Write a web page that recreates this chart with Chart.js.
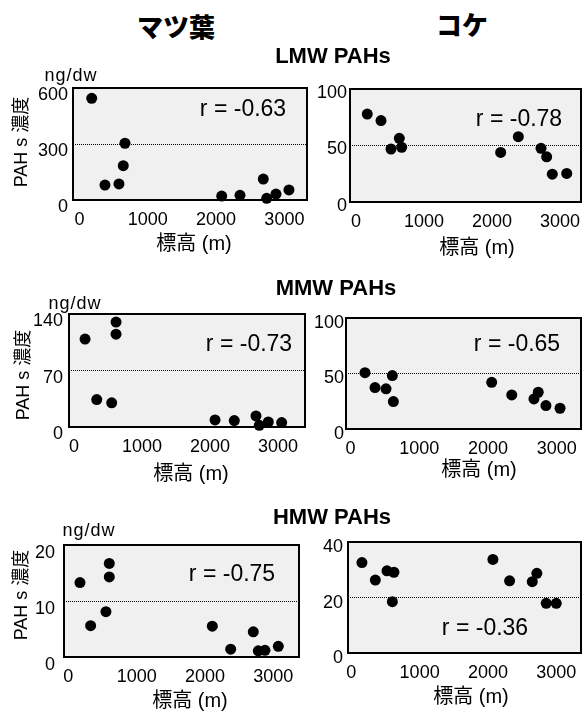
<!DOCTYPE html>
<html lang="ja">
<head>
<meta charset="utf-8">
<title>PAHs 濃度と標高</title>
<script src="https://cdn.jsdelivr.net/npm/chart.js@4.4.1/dist/chart.umd.min.js"></script>
<style>
  html, body { margin: 0; padding: 0; overflow: hidden; background: #fff; }
  body { position: relative; width: 585px; height: 712px;
         font-family: "Liberation Sans", "Noto Sans CJK JP", sans-serif; color: #000; }
  canvas { position: absolute; }
  .txt { position: absolute; transform: translate(-50%, -50%); line-height: 1; white-space: nowrap; }
</style>
</head>
<body>
<script>
// --- data: altitude (m) vs concentration (ng/dw) ---
const altitudeTicks = [0, 1000, 2000, 3000];

// マツ葉
const pineLmwAlt  = [179, 373, 578, 641, 666, 2082, 2350, 2691, 2741, 2877, 3067];
const pineLmwConc = [545, 80, 86, 184, 304, 21, 25, 112, 9, 32, 54];
const pineMmwAlt  = [162, 334, 554, 618, 618, 2074, 2357, 2676, 2725, 2857, 3054];
const pineMmwConc = [109, 34, 30, 130, 115, 8.7, 8, 13.7, 2.1, 6.2, 5.5];
const pineHmwAlt  = [170, 326, 550, 599, 599, 2107, 2376, 2707, 2780, 2878, 3073];
const pineHmwConc = [13.3, 5.6, 8.1, 16.7, 14.3, 5.5, 1.4, 4.5, 1.1, 1.2, 1.9];

// コケ
const mossLmwAlt  = [166, 368, 515, 637, 672, 2128, 2387, 2721, 2804, 2887, 3099];
const mossLmwConc = [77.8, 72.1, 46.9, 56.4, 48.4, 43.9, 57.8, 47.5, 40, 24.6, 25.3];
const mossMmwAlt  = [212, 358, 518, 610, 625, 2055, 2347, 2670, 2732, 2844, 3049];
const mossMmwConc = [50.7, 37.3, 36.2, 48.1, 24.7, 42.1, 30.7, 27.1, 33.1, 21.1, 18.7];
const mossHmwAlt  = [156, 352, 522, 601, 624, 2072, 2316, 2648, 2715, 2852, 2999];
const mossHmwConc = [32.6, 26.3, 29.6, 18.5, 29.1, 33.7, 26.0, 25.7, 28.7, 17.9, 17.9];

const pineLmwTicks = [0, 300, 600];
const pineMmwTicks = [0, 70, 140];
const pineHmwTicks = [0, 10, 20];
const mossLmwTicks = [0, 50, 100];
const mossMmwTicks = [0, 50, 100];
const mossHmwTicks = [0, 20, 40];

const rValues = ['r = -0.63', 'r = -0.78', 'r = -0.73', 'r = -0.65', 'r = -0.75', 'r = -0.36'];

// --- layout (page pixels) ---
const panels = [
  { alt: pineLmwAlt, conc: pineLmwConc, yTicks: pineLmwTicks, r: rValues[0],
    box: [73, 88, 307, 200], xRange: [-95, 3331], tickPad: 5, tickShift: 7,
    rAt: [243, 108], xTitleAt: [194, 243] },
  { alt: mossLmwAlt, conc: mossLmwConc, yTicks: mossLmwTicks, r: rValues[1],
    box: [350, 89, 581, 202], xRange: [-88, 3309], tickPad: 3, tickShift: 4,
    rAt: [519, 118], xTitleAt: [477, 247] },
  { alt: pineMmwAlt, conc: pineMmwConc, yTicks: pineMmwTicks, r: rValues[2],
    box: [69, 314, 305, 427], xRange: [-74, 3397], tickPad: 6, tickShift: 7.5,
    rAt: [249, 343], xTitleAt: [191, 473] },
  { alt: mossMmwAlt, conc: mossMmwConc, yTicks: mossMmwTicks, r: rValues[3],
    box: [346, 318, 581, 429], xRange: [-64, 3354], tickPad: 2, tickShift: 5,
    rAt: [517, 343], xTitleAt: [479, 469] },
  { alt: pineHmwAlt, conc: pineHmwConc, yTicks: pineHmwTicks, r: rValues[4],
    box: [64, 545, 299, 657], xRange: [-64, 3376], tickPad: 9, tickShift: 8,
    rAt: [232, 573], xTitleAt: [190, 700] },
  { alt: mossHmwAlt, conc: mossHmwConc, yTicks: mossHmwTicks, r: rValues[5],
    box: [348, 542, 581, 653], xRange: [-48, 3361], tickPad: 5, tickShift: 5.5,
    rAt: [485, 627], xTitleAt: [471, 696] }
];

const PAD_L = 60, PAD_T = 24, PAD_R = 20, PAD_B = 40;
const tickFont = { family: 'Liberation Sans', size: 18 };

// grey plot background + black frame (frame drawn under the dots)
const framePlugin = {
  id: 'frame',
  beforeDraw(chart) {
    const { ctx, chartArea: a } = chart;
    ctx.save();
    ctx.fillStyle = '#f0f0f0';
    ctx.fillRect(a.left, a.top, a.width, a.height);
    ctx.restore();
  },
  beforeDatasetsDraw(chart) {
    const { ctx, chartArea: a } = chart;
    ctx.save();
    ctx.strokeStyle = '#000';
    ctx.lineWidth = 2;
    ctx.strokeRect(a.left, a.top, a.width, a.height);
    ctx.restore();
  }
};

function addText(str, x, y, style) {
  const el = document.createElement('div');
  el.className = 'txt';
  el.textContent = str;
  el.style.left = x + 'px';
  el.style.top = y + 'px';
  Object.assign(el.style, style || {});
  document.body.appendChild(el);
  return el;
}

function makePanel(p) {
  const [L, T, R, B] = p.box;
  const cv = document.createElement('canvas');
  cv.width = R - L + PAD_L + PAD_R;
  cv.height = B - T + PAD_T + PAD_B;
  cv.style.left = (L - PAD_L) + 'px';
  cv.style.top = (T - PAD_T) + 'px';
  document.body.appendChild(cv);

  const mid = p.yTicks[1];
  new Chart(cv, {
    type: 'scatter',
    data: {
      datasets: [{
        data: p.alt.map((a, i) => ({ x: a, y: p.conc[i] })),
        backgroundColor: '#000',
        borderWidth: 0,
        pointRadius: 5.5,
        pointHoverRadius: 5.5,
        clip: false
      }]
    },
    options: {
      responsive: false,
      animation: false,
      events: [],
      layout: { padding: { top: PAD_T, right: PAD_R, left: 0, bottom: 0 } },
      plugins: { legend: { display: false }, tooltip: { enabled: false } },
      scales: {
        x: {
          type: 'linear',
          min: p.xRange[0],
          max: p.xRange[1],
          afterBuildTicks: s => { s.ticks = altitudeTicks.map(v => ({ value: v })); },
          afterFit: s => { s.height = PAD_B; },
          grid: { display: false, drawTicks: false },
          border: { display: false },
          ticks: { autoSkip: false, maxRotation: 0, padding: 9, color: '#000', font: tickFont,
                   callback: v => String(v) }
        },
        y: {
          min: 0,
          max: p.yTicks[p.yTicks.length - 1],
          afterBuildTicks: s => { s.ticks = p.yTicks.map(v => ({ value: v })); },
          afterFit: s => { s.width = PAD_L; },
          grid: {
            drawTicks: false,
            lineWidth: 1,
            color: c => (c.tick && c.tick.value === mid) ? '#000' : 'rgba(0,0,0,0)'
          },
          border: { display: false, dash: [1, 1] },
          ticks: { padding: p.tickPad, labelOffset: p.tickShift, color: '#000', font: tickFont,
                   callback: v => String(v) }
        }
      }
    },
    plugins: [framePlugin]
  });

  addText(p.r, p.rAt[0], p.rAt[1], { fontSize: '23px' });
  addText('標高 (m)', p.xTitleAt[0], p.xTitleAt[1], { fontSize: '20px' });
}

panels.forEach(makePanel);

// headings
addText('マツ葉', 176, 28, { fontSize: '26px', fontWeight: '900' });
addText('コケ', 462, 26, { fontSize: '26px', fontWeight: '900' });
addText('LMW PAHs', 333, 56, { fontSize: '22px', fontWeight: 'bold' });
addText('MMW PAHs', 336, 288, { fontSize: '22px', fontWeight: 'bold' });
addText('HMW PAHs', 332, 517, { fontSize: '22px', fontWeight: 'bold' });

// unit + y-axis title for the left column
[[71, 75, 21, 142], [75, 303, 23, 375], [89, 530, 21, 595]].forEach(([ux, uy, tx, ty]) => {
  addText('ng/dw', ux, uy, { fontSize: '18px', letterSpacing: '1px' });
  addText('PAH s 濃度', tx, ty, { fontSize: '18px', transform: 'translate(-50%, -50%) rotate(-90deg)' });
});
</script>
</body>
</html>
